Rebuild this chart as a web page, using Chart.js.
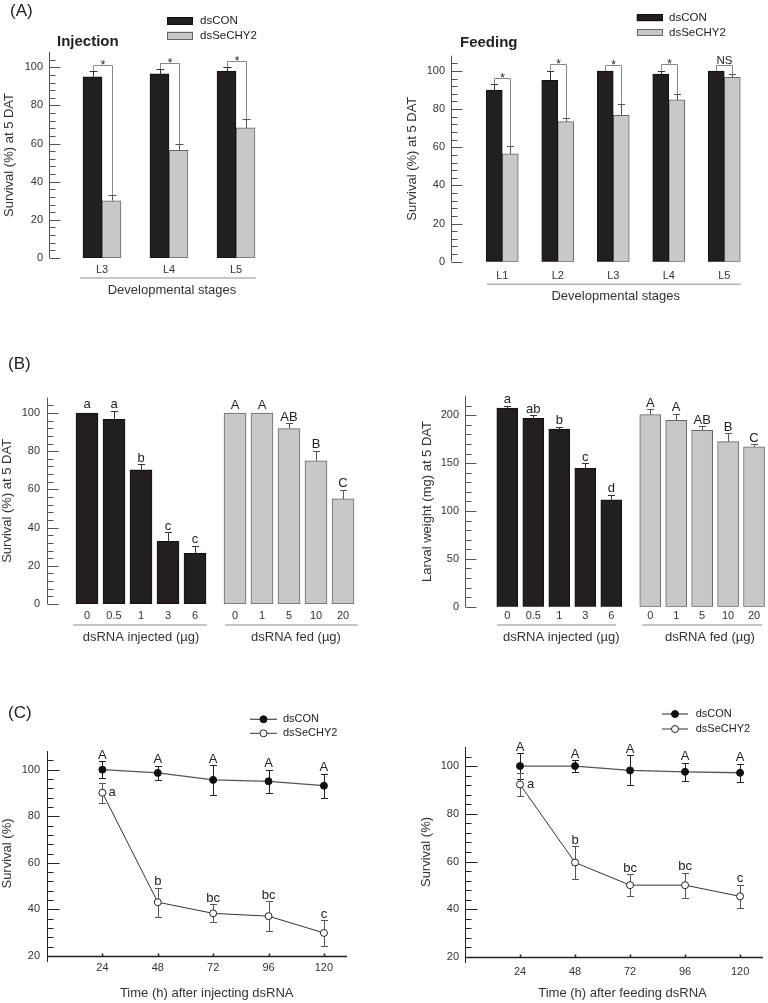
<!DOCTYPE html>
<html><head><meta charset="utf-8">
<script src="https://cdn.jsdelivr.net/npm/chart.js@4.4.1/dist/chart.umd.min.js"></script>
<style>
html,body{margin:0;padding:0;background:#fff;}
body{width:768px;height:1003px;position:relative;overflow:hidden;font-family:"Liberation Sans",Arial,Helvetica,sans-serif;color:#222;}
canvas{position:absolute;}
.lbl{position:absolute;line-height:1;white-space:nowrap;color:#222;z-index:2;}
</style></head><body>
<span class="lbl" style="left:10px;top:2px;font-size:17px">(A)</span>
<span class="lbl" style="left:57px;top:33px;font-size:15px;font-weight:bold">Injection</span>
<span class="lbl" style="left:460px;top:34px;font-size:15px;font-weight:bold">Feeding</span>
<span class="lbl" style="left:8px;top:355px;font-size:17px">(B)</span>
<span class="lbl" style="left:8px;top:704px;font-size:17px">(C)</span>
<script>
// ---------- data ----------
const stagesInj = ['L3', 'L4', 'L5'];
const injCon = [95, 96.5, 98];
const injConErr = [3, 2.5, 2];
const injChy = [30, 56.5, 68.2];
const injChyErr = [3, 3.2, 4.6];
const injSig = ['*', '*', '*'];

const stagesFed = ['L1', 'L2', 'L3', 'L4', 'L5'];
const fedCon = [90, 95.1, 100, 98.4, 100];
const fedConErr = [3, 5.1, 0, 1.8, 0];
const fedChy = [56.5, 73.4, 76.7, 84.8, 96.7];
const fedChyErr = [4.3, 1.8, 6, 3, 1.6];
const fedSig = ['*', '*', '*', '*', 'NS'];

const doseInj = ['0', '0.5', '1', '3', '6'];
const doseFed = ['0', '1', '5', '10', '20'];
const survInj = [100, 96.7, 70.3, 32.8, 26.5];
const survInjErr = [0, 4.5, 2.8, 4.7, 4];
const survInjLet = ['a', 'a', 'b', 'c', 'c'];
const survFed = [100, 100, 91.8, 75, 55];
const survFedErr = [0, 0, 2.8, 5.3, 4.9];
const survFedLet = ['A', 'A', 'AB', 'B', 'C'];
const wtInj = [207.7, 196.9, 185.7, 144.6, 111.8];
const wtInjErr = [2.1, 3.1, 2.5, 5.2, 5.3];
const wtInjLet = ['a', 'ab', 'b', 'c', 'd'];
const wtFed = [200.7, 194.8, 184.3, 172.5, 167.2];
const wtFedErr = [5.6, 6.6, 4.2, 8.7, 2.8];
const wtFedLet = ['A', 'A', 'AB', 'B', 'C'];

const hours = [24, 48, 72, 96, 120];
const tInjCon = [100, 98.6, 95.6, 95, 93.1];
const tInjConErr = [3.5, 3.1, 6.3, 5, 5.2];
const tInjChy = [90.1, 43.1, 38.3, 37.1, 29.9];
const tInjChyErr = [4.3, 6.3, 3.9, 6.3, 5.5];
const tFedCon = [100, 100, 98.2, 97.6, 97.2];
const tFedConErr = [5.4, 2.4, 6.3, 3.7, 3.8];
const tFedChy = [92.3, 59.6, 50.1, 50.1, 45.4];
const tFedChyErr = [5, 6.9, 4.5, 5.2, 4.8];
const conLet = ['A', 'A', 'A', 'A', 'A'];
const chyLet = ['a', 'b', 'bc', 'bc', 'c'];

// ---------- style ----------
const FONT = '"Liberation Sans", Arial, Helvetica, sans-serif';
const BLACK = '#231f20', BLACKB = '#111111', GRAY = '#c8c8c8', GRAYB = '#666666';
Chart.defaults.font.family = FONT;
Chart.defaults.color = '#333';

function ln(ctx, x1, y1, x2, y2) { ctx.beginPath(); ctx.moveTo(x1, y1); ctx.lineTo(x2, y2); ctx.stroke(); }
const valOf = r => (r !== null && typeof r === 'object') ? r.y : r;

// ---------- plugins ----------
const sigmaAxis = {
  id: 'sigmaAxis',
  afterDraw(chart, args, o) {
    if (!o || !o.on) return;
    const ctx = chart.ctx, a = chart.chartArea, y = chart.scales.y;
    ctx.save();
    ctx.strokeStyle = o.color || '#555';
    ctx.lineWidth = o.lw || 1;
    const ax = Math.round(a.left - (o.offset || 0)) + 0.5;
    const top = y.getPixelForValue(y.max), bot = y.getPixelForValue(y.min);
    ln(ctx, ax, top, ax, bot + (o.extend || 0));
    const n = Math.round((y.max - y.min) / o.minor);
    for (let k = 0; k <= n; k++) {
      const v = y.min + k * o.minor;
      const r = v / o.major;
      const major = Math.abs(r - Math.round(r)) < 1e-6;
      if (!major && v >= y.max - 1e-6) continue;
      const p = Math.round(y.getPixelForValue(v)) + 0.5;
      ln(ctx, ax, p, ax + (major ? o.majorLen : o.minorLen), p);
    }
    if (o.xAxis) {
      const x = chart.scales.x;
      const by = Math.round(a.bottom) + 0.5;
      ctx.lineWidth = o.xlw || o.lw || 1;
      ln(ctx, ax, by, a.right, by);
      x.ticks.forEach(t => {
        const px = Math.round(x.getPixelForValue(t.value)) + 0.5;
        ln(ctx, px, by, px, by - (o.xTickLen || 3));
      });
    }
    ctx.restore();
  }
};

function drawErr(chart, o) {
  const ctx = chart.ctx, ys = chart.scales.y;
  ctx.save();
  ctx.lineWidth = o.lw || 1;
  chart.data.datasets.forEach((ds, i) => {
    if (!ds.errorBars) return;
    const meta = chart.getDatasetMeta(i);
    ctx.strokeStyle = ds.errorColor || o.color || '#333';
    meta.data.forEach((el, j) => {
      const e = ds.errorBars[j];
      if (!e) return;
      const v = valOf(ds.data[j]);
      const x = Math.round(el.x) + 0.5;
      const t = Math.round(ys.getPixelForValue(v + e)) + 0.5;
      const b = o.both ? Math.round(ys.getPixelForValue(v - e)) + 0.5 : ys.getPixelForValue(v);
      const h = (o.cap || 7) / 2;
      ln(ctx, x, b, x, t);
      ln(ctx, x - h, t, x + h, t);
      if (o.both) ln(ctx, x - h, b, x + h, b);
    });
  });
  ctx.restore();
}
const errBars = {
  id: 'errBars',
  beforeDatasetsDraw(chart, args, o) { if (o && o.on && o.behind) drawErr(chart, o); },
  afterDatasetsDraw(chart, args, o) { if (o && o.on && !o.behind) drawErr(chart, o); }
};

const letters = {
  id: 'letters',
  afterDatasetsDraw(chart, args, o) {
    if (!o || !o.on) return;
    const ctx = chart.ctx, ys = chart.scales.y;
    ctx.save();
    ctx.fillStyle = '#222';
    ctx.font = (o.size || 13) + 'px ' + FONT;
    chart.data.datasets.forEach((ds, i) => {
      if (!ds.letters) return;
      const meta = chart.getDatasetMeta(i);
      meta.data.forEach((el, j) => {
        const txt = ds.letters[j];
        if (!txt) return;
        const v = valOf(ds.data[j]);
        const e = (ds.errorBars && ds.errorBars[j]) || 0;
        if (ds.lettersRight && ds.lettersRight.indexOf(j) >= 0) {
          ctx.textAlign = 'left'; ctx.textBaseline = 'middle';
          ctx.fillText(txt, el.x + (o.rightDx || 6), el.y);
        } else {
          ctx.textAlign = 'center'; ctx.textBaseline = 'alphabetic';
          ctx.fillText(txt, el.x, ys.getPixelForValue(v + e) - (o.gap || 2.5) - (e ? 0 : (o.gap0 || 0)));
        }
      });
    });
    ctx.restore();
  }
};

const brackets = {
  id: 'brackets',
  afterDatasetsDraw(chart, args, o) {
    if (!o || !o.on) return;
    const ctx = chart.ctx, ys = chart.scales.y;
    const d0 = chart.data.datasets[0], d1 = chart.data.datasets[1];
    const m0 = chart.getDatasetMeta(0), m1 = chart.getDatasetMeta(1);
    ctx.save();
    ctx.strokeStyle = o.color || '#888'; ctx.lineWidth = 1;
    ctx.fillStyle = '#222';
    d1.sig.forEach((s, j) => {
      const c = d0.data[j] + d0.errorBars[j], t = d1.data[j] + d1.errorBars[j];
      const lv = Math.max(c, t) + o.rise;
      const x0 = Math.round(m0.data[j].x) + 0.5, x1 = Math.round(m1.data[j].x) + 0.5;
      const yl = Math.round(ys.getPixelForValue(lv)) + 0.5;
      ctx.beginPath();
      ctx.moveTo(x0, ys.getPixelForValue(c)); ctx.lineTo(x0, yl);
      ctx.lineTo(x1, yl); ctx.lineTo(x1, ys.getPixelForValue(t));
      ctx.stroke();
      ctx.textAlign = 'center'; ctx.textBaseline = 'alphabetic';
      if (s === '*') { ctx.font = '12px ' + FONT; ctx.fillText(s, (x0 + x1) / 2, yl + 3); }
      else { ctx.font = '11.5px ' + FONT; ctx.fillText(s, (x0 + x1) / 2, yl - 1.5); }
    });
    ctx.restore();
  }
};

const under = {
  id: 'under',
  afterDraw(chart, args, o) {
    if (!o || !o.on) return;
    const ctx = chart.ctx, a = chart.chartArea;
    ctx.save();
    if (o.line) {
      ctx.strokeStyle = '#b4b4b4'; ctx.lineWidth = 1.5;
      const y = a.bottom + o.dy;
      ln(ctx, a.left + o.l, y, a.right - o.r, y);
    }
    if (o.caption) {
      ctx.fillStyle = '#333'; ctx.font = '13px ' + FONT;
      ctx.textAlign = 'center'; ctx.textBaseline = 'middle';
      ctx.fillText(o.caption, (a.left + a.right) / 2 + (o.cdx || 0), a.bottom + o.cdy);
    }
    ctx.restore();
  }
};

const keyLegend = {
  id: 'keyLegend',
  afterDraw(chart, args, o) {
    if (!o || !o.on) return;
    const ctx = chart.ctx;
    ctx.save();
    chart.data.datasets.forEach((ds, i) => {
      const cy = o.y0 + i * o.dy;
      if (o.style === 'box') {
        ctx.fillStyle = ds.backgroundColor;
        ctx.fillRect(o.x, cy - o.h / 2, o.w, o.h);
        ctx.strokeStyle = ds.borderColor; ctx.lineWidth = 1;
        ctx.strokeRect(Math.round(o.x) + 0.5, Math.round(cy - o.h / 2) + 0.5, o.w - 1, o.h - 1);
      } else {
        ctx.strokeStyle = ds.borderColor; ctx.lineWidth = ds.borderWidth;
        ln(ctx, o.x, cy, o.x + o.w, cy);
        ctx.beginPath(); ctx.arc(o.x + o.w / 2, cy, ds.pointRadius, 0, Math.PI * 2);
        ctx.fillStyle = ds.pointBackgroundColor; ctx.fill();
        ctx.strokeStyle = ds.pointBorderColor; ctx.lineWidth = ds.pointBorderWidth || 1; ctx.stroke();
      }
      ctx.fillStyle = '#222'; ctx.font = o.size + 'px ' + FONT;
      ctx.textAlign = 'left'; ctx.textBaseline = 'middle';
      ctx.fillText(ds.label, o.tx, cy);
    });
    ctx.restore();
  }
};

Chart.register(sigmaAxis, errBars, letters, brackets, under, keyLegend);

// ---------- chart factory ----------
function makeChart(rect, area, type, data, opts) {
  const [cx, cy, cw, ch] = rect;
  const [L, T, R, B] = area;
  const cv = document.createElement('canvas');
  cv.width = cw; cv.height = ch;
  cv.style.left = cx + 'px'; cv.style.top = cy + 'px';
  cv.style.width = cw + 'px'; cv.style.height = ch + 'px';
  document.body.appendChild(cv);
  const yShow = opts.yShow !== false;
  const zero = s => { s.paddingTop = 0; s.paddingBottom = 0; s.paddingLeft = 0; s.paddingRight = 0; };
  const x = Object.assign({
    grid: { display: false, drawTicks: false },
    border: { display: false },
    ticks: { font: { size: 11 }, color: '#333', padding: opts.xPad, maxRotation: 0, minRotation: 0, autoSkip: false },
    afterFit: s => { s.height = cy + ch - B; zero(s); }
  }, opts.x || {});
  const y = {
    display: yShow,
    min: opts.yMin, max: opts.yMax,
    grid: { display: false, drawTicks: false },
    border: { display: false },
    ticks: { stepSize: opts.yMajor, includeBounds: false, font: { size: 11 }, color: '#333', padding: opts.yPad || 0 },
    afterBuildTicks: s => {
      s.ticks = s.ticks.filter(t => { const r = t.value / opts.yMajor; return Math.abs(r - Math.round(r)) < 1e-6; });
    },
    title: opts.yTitle ? { display: true, text: opts.yTitle, font: { size: 13 }, color: '#333', padding: { top: opts.yTitlePad || 0, bottom: 0 } } : { display: false },
    afterFit: s => { s.width = yShow ? L - cx : 0; zero(s); }
  };
  return new Chart(cv, {
    type: type,
    data: data,
    options: {
      responsive: false, maintainAspectRatio: false, animation: false, events: [],
      layout: { padding: { left: yShow ? 0 : L - cx, top: T - cy, right: cx + cw - R, bottom: 0 } },
      scales: { x: x, y: y },
      plugins: Object.assign({ legend: { display: false }, tooltip: { enabled: false } }, opts.plugins || {})
    }
  });
}

function barDs(label, vals, errs, fill, border, thick, extra) {
  return Object.assign({
    label: label, data: vals, errorBars: errs,
    backgroundColor: fill, borderColor: border, borderWidth: 1, borderSkipped: false,
    barThickness: thick, errorColor: fill === BLACK ? '#333' : '#555'
  }, extra || {});
}

// ---------- (A) Injection ----------
makeChart([0, 0, 290, 300], [68.5, 52, 269.5, 258], 'bar', {
  labels: stagesInj,
  datasets: [
    barDs('dsCON', injCon, injConErr, BLACK, BLACKB, 19),
    barDs('dsSeCHY2', injChy, injChyErr, GRAY, GRAYB, 19, { sig: injSig })
  ]
}, {
  yMin: 0, yMax: 108, yMajor: 20, yPad: 25.5, yTitle: 'Survival (%) at 5 DAT', yTitlePad: 1.2, xPad: 5,
  plugins: {
    sigmaAxis: { on: true, offset: 19.5, minor: 4, major: 20, majorLen: 11, minorLen: 6, color: '#555' },
    errBars: { on: true, cap: 8 },
    brackets: { on: true, rise: 3.2, color: '#888' },
    under: { on: true, line: true, dy: 20, l: 11.5, r: 13.5, caption: 'Developmental stages', cdy: 32, cdx: 3 },
    keyLegend: { on: true, style: 'box', x: 167, y0: 21, dy: 14.5, w: 26, h: 8, tx: 200, size: 11.5 }
  }
});

// ---------- (A) Feeding ----------
makeChart([384, 0, 384, 305], [474.5, 55.7, 752, 261.7], 'bar', {
  labels: stagesFed,
  datasets: [
    barDs('dsCON', fedCon, fedConErr, BLACK, BLACKB, 16),
    barDs('dsSeCHY2', fedChy, fedChyErr, GRAY, GRAYB, 16, { sig: fedSig })
  ]
}, {
  yMin: 0, yMax: 108, yMajor: 20, yPad: 29.5, yTitle: 'Survival (%) at 5 DAT', yTitlePad: 20.2, xPad: 7.7,
  plugins: {
    sigmaAxis: { on: true, offset: 23.5, minor: 4, major: 20, majorLen: 11, minorLen: 6, color: '#555' },
    errBars: { on: true, cap: 7 },
    brackets: { on: true, rise: 3.2, color: '#888' },
    under: { on: true, line: true, dy: 22.6, l: 12.5, r: 11, caption: 'Developmental stages', cdy: 34.3, cdx: 2.5 },
    keyLegend: { on: true, style: 'box', x: 252.7, y0: 17.7, dy: 14.7, w: 26, h: 7, tx: 285, size: 11.5 }
  }
});

// ---------- (B) survival ----------
makeChart([0, 380, 215, 270], [73.5, 397.7, 208.5, 604], 'bar', {
  labels: doseInj,
  datasets: [barDs('dsSeCHY2 injected', survInj, survInjErr, BLACK, BLACKB, 22, { letters: survInjLet })]
}, {
  yMin: 0, yMax: 108, yMajor: 20, yPad: 33.5, yTitle: 'Survival (%) at 5 DAT', yTitlePad: 0, xPad: 5.4,
  plugins: {
    sigmaAxis: { on: true, offset: 26.5, minor: 4, major: 20, majorLen: 11, minorLen: 6, color: '#555' },
    errBars: { on: true, cap: 7 },
    letters: { on: true, size: 13, gap: 2.5, gap0: 2 },
    under: { on: true, line: true, dy: 21, l: -0.5, r: 1.5, caption: 'dsRNA injected (µg)', cdy: 33, cdx: 0 }
  }
});
makeChart([215, 380, 160, 270], [221.5, 397.7, 356.5, 604], 'bar', {
  labels: doseFed,
  datasets: [barDs('dsSeCHY2 fed', survFed, survFedErr, GRAY, GRAYB, 22, { letters: survFedLet })]
}, {
  yShow: false, yMin: 0, yMax: 108, yMajor: 20, xPad: 5.4,
  plugins: {
    errBars: { on: true, cap: 7 },
    letters: { on: true, size: 13, gap: 2.5, gap0: 1 },
    under: { on: true, line: true, dy: 21, l: 3.5, r: -1.5, caption: 'dsRNA fed (µg)', cdy: 33, cdx: 7 }
  }
});

// ---------- (B) larval weight ----------
makeChart([384, 380, 245, 270], [494.3, 396.2, 624.3, 606.7], 'bar', {
  labels: doseInj,
  datasets: [barDs('dsSeCHY2 injected', wtInj, wtInjErr, BLACK, BLACKB, 21, { letters: wtInjLet })]
}, {
  yMin: 0, yMax: 220, yMajor: 50, yPad: 35.3, yTitle: 'Larval weight (mg) at 5 DAT', yTitlePad: 35.2, xPad: 2.7,
  plugins: {
    sigmaAxis: { on: true, offset: 29.6, minor: 10, major: 50, majorLen: 11, minorLen: 6, color: '#555' },
    errBars: { on: true, cap: 7 },
    letters: { on: true, size: 13, gap: 2.5 },
    under: { on: true, line: true, dy: 18.3, l: 2.7, r: 8.3, caption: 'dsRNA injected (µg)', cdy: 30.3, cdx: 2 }
  }
});
makeChart([629, 380, 139, 270], [637.3, 396.2, 767, 606.7], 'bar', {
  labels: doseFed,
  datasets: [barDs('dsSeCHY2 fed', wtFed, wtFedErr, GRAY, GRAYB, 21, { letters: wtFedLet })]
}, {
  yShow: false, yMin: 0, yMax: 220, yMajor: 50, xPad: 2.7,
  plugins: {
    errBars: { on: true, cap: 7 },
    letters: { on: true, size: 13, gap: 2.5 },
    under: { on: true, line: true, dy: 18.3, l: 4.7, r: 5, caption: 'dsRNA fed (µg)', cdy: 30.3, cdx: 7.7 }
  }
});

// ---------- (C) time courses ----------
function lineSets(con, conErr, chy, chyErr) {
  return [
    { label: 'dsCON', data: hours.map((h, i) => ({ x: h, y: con[i] })), errorBars: conErr, letters: conLet,
      showLine: true, borderColor: '#555', borderWidth: 1.3, pointRadius: 3.5, pointBackgroundColor: '#111',
      pointBorderColor: '#111', pointBorderWidth: 1, errorColor: '#222' },
    { label: 'dsSeCHY2', data: hours.map((h, i) => ({ x: h, y: chy[i] })), errorBars: chyErr, letters: chyLet,
      lettersRight: [0], showLine: true, borderColor: '#333', borderWidth: 1, pointRadius: 3.5,
      pointBackgroundColor: '#ffffff', pointBorderColor: '#222', pointBorderWidth: 1, errorColor: '#555' }
  ];
}
function timeX() {
  return { type: 'linear', min: 0, max: 130, afterBuildTicks: s => { s.ticks = hours.map(v => ({ value: v })); } };
}

makeChart([0, 700, 384, 303], [47, 751, 347, 956], 'scatter', {
  datasets: lineSets(tInjCon, tInjConErr, tInjChy, tInjChyErr)
}, {
  x: timeX(), yMin: 20, yMax: 108, yMajor: 20, yPad: 7, yTitle: 'Survival (%)', yTitlePad: 0, xPad: 5.4,
  plugins: {
    sigmaAxis: { on: true, offset: 0, minor: 4, major: 20, majorLen: 12, minorLen: 6, color: '#222', lw: 1, xlw: 1.5, xAxis: true, extend: 6, xTickLen: 3 },
    errBars: { on: true, cap: 7, both: true, behind: true },
    letters: { on: true, size: 13, gap: 2.5, rightDx: 6 },
    under: { on: true, caption: 'Time (h) after injecting dsRNA', cdy: 37, cdx: 9.7 },
    keyLegend: { on: true, style: 'line', x: 250, y0: 19.3, dy: 14, w: 27, tx: 283, size: 11 }
  }
});

makeChart([384, 700, 384, 303], [465, 747, 765, 957], 'scatter', {
  datasets: lineSets(tFedCon, tFedConErr, tFedChy, tFedChyErr)
}, {
  x: timeX(), yMin: 20, yMax: 108, yMajor: 20, yPad: 6, yTitle: 'Survival (%)', yTitlePad: 34.2, xPad: 8.4,
  plugins: {
    sigmaAxis: { on: true, offset: 0, minor: 4, major: 20, majorLen: 12, minorLen: 6, color: '#222', lw: 1, xlw: 1.5, xAxis: true, extend: 6, xTickLen: 3 },
    errBars: { on: true, cap: 7, both: true, behind: true },
    letters: { on: true, size: 13, gap: 2.5, rightDx: 7 },
    under: { on: true, caption: 'Time (h) after feeding dsRNA', cdy: 36, cdx: 8.5 },
    keyLegend: { on: true, style: 'line', x: 278, y0: 14, dy: 15, w: 26, tx: 311.7, size: 11 }
  }
});
</script>
</body></html>
